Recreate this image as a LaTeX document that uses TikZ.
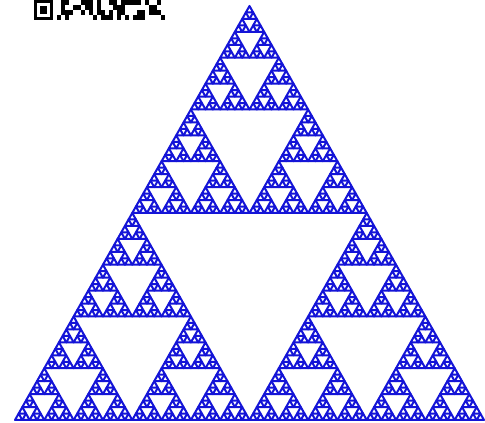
\documentclass[tikz,border=0pt]{standalone}
\definecolor{fractalblue}{RGB}{20,20,215}

% one triangle of the gasket, split until depth 0
\newcommand\sierptri[5]{% depth, x, y, width, height
  \ifnum#1=0
    \draw[edge] (#2,#3) -- ++(#4,0) -- ++(-#4/2,#5) -- cycle;
  \else
    \begingroup
    \pgfmathtruncatemacro\dep{#1-1}%
    \pgfmathsetmacro\hw{#4/2}%
    \pgfmathsetmacro\hh{#5/2}%
    \pgfmathsetmacro\xb{#2+#4/2}%
    \pgfmathsetmacro\xc{#2+#4/4}%
    \pgfmathsetmacro\yc{#3+#5/2}%
    \edef\next{%
      \noexpand\sierptri{\dep}{#2}{#3}{\hw}{\hh}%
      \noexpand\sierptri{\dep}{\xb}{#3}{\hw}{\hh}%
      \noexpand\sierptri{\dep}{\xc}{\yc}{\hw}{\hh}}%
    \next
    \endgroup
  \fi}

\begin{document}
\begin{tikzpicture}[
x=1pt,y=1pt,
edge/.style={draw=fractalblue,line width=2pt,line join=round},
cell/.style={fill=black}
]
\useasboundingbox[fill=white] (0,0) rectangle (485,423);
% code strip, top left
\fill[cell] (34,403) rectangle (53,423);
\fill[white] (37,406) rectangle (50,420);
\fill[cell] (40,409) rectangle (47,417);
\pgfmathsetseed{7}
\foreach \i in {0,...,26}{
  \foreach \j in {0,...,3}{
    \pgfmathsetmacro\r{rnd}
    \ifdim\r pt>0.5pt \fill[cell] (57+4*\i,403+5*\j) rectangle ++(4,5); \fi
  }
}
% the gasket
\sierptri{6}{15}{3}{469}{414}
\end{tikzpicture}
\end{document}
